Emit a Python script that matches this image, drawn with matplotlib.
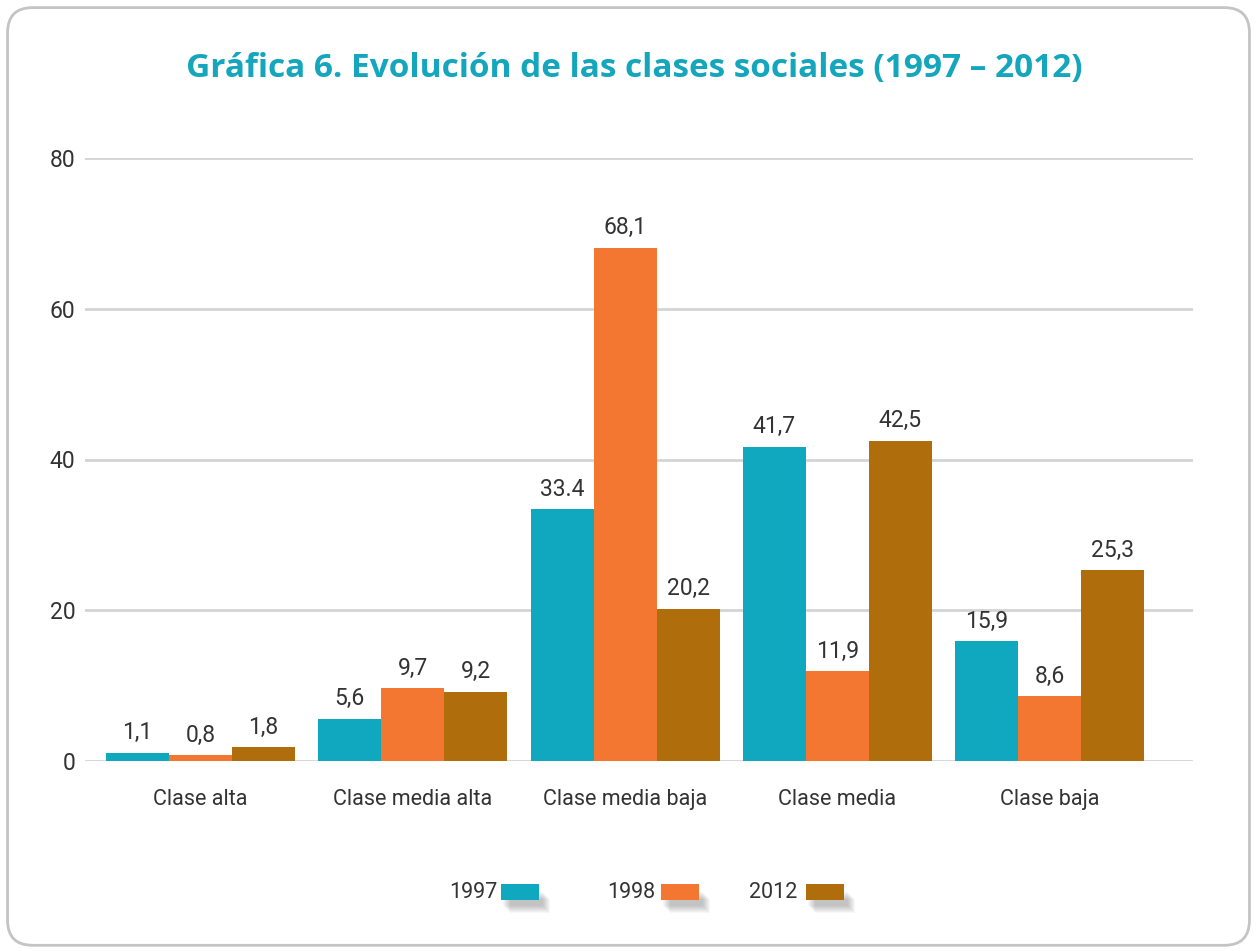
import numpy as np
import matplotlib
matplotlib.use("Agg")
import matplotlib.pyplot as plt
from matplotlib.patches import FancyBboxPatch, Rectangle

plt.rcParams['font.family'] = ['Roboto', 'DejaVu Sans']

categories = ["Clase alta", "Clase media alta", "Clase media baja", "Clase media", "Clase baja"]
years = ["1997", "1998", "2012"]
v1997 = [1.1, 5.6, 33.4, 41.7, 15.9]
v1998 = [0.8, 9.7, 68.1, 11.9, 8.6]
v2012 = [1.8, 9.2, 20.2, 42.5, 25.3]
# value labels as printed on the chart
l1997 = ["1,1", "5,6", "33.4", "41,7", "15,9"]
l1998 = ["0,8", "9,7", "68,1", "11,9", "8,6"]
l2012 = ["1,8", "9,2", "20,2", "42,5", "25,3"]
colors = ["#10a8be", "#f37631", "#b06d0c"]
title_color = "#14a6bd"
text_color = "#333333"

fig = plt.figure(figsize=(12.57, 9.51), dpi=100)

# rounded frame around the whole chart
frame = FancyBboxPatch((0.006, 0.006), 0.988, 0.986, boxstyle="round,pad=0,rounding_size=0.02",
                       transform=fig.transFigure, fill=False, edgecolor="#c4c4c4", linewidth=2,
                       mutation_aspect=1257/951)
fig.patches.append(frame)

ax = fig.add_axes([85/1257, 1-761/951, (1193-85)/1257, (761-158)/951])

x = np.arange(len(categories))
w = 0.297
series = [v1997, v1998, v2012]
labels = [l1997, l1998, l2012]
for i, (vals, labs) in enumerate(zip(series, labels)):
    bars = ax.bar(x + (i - 1) * w, vals, width=w, color=colors[i], zorder=3, label=years[i])
    for b, lab in zip(bars, labs):
        ax.annotate(lab, (b.get_x() + b.get_width() / 2, b.get_height()),
                    xytext=(0, 6), textcoords="offset points", ha="center", va="bottom",
                    fontsize=16.5, color=text_color)

ax.set_ylim(0, 80)
ax.set_xlim(-0.544, 4.675)
ax.set_yticks([0, 20, 40, 60, 80])
ax.yaxis.grid(True, color="#d4d4d4", linewidth=2, zorder=0)
ax.set_axisbelow(True)
for s in ax.spines.values():
    s.set_visible(False)
ax.tick_params(axis="y", length=0, pad=7, labelsize=16.5, labelcolor=text_color)
ax.tick_params(axis="x", length=0, pad=20, labelsize=15.5, labelcolor=text_color)
ax.set_xticks(x)
ax.set_xticklabels(categories)

fig.text(0.505, 1-68/951, "Gráfica 6. Evolución de las clases sociales (1997 – 2012)",
         ha="center", va="center", fontsize=24, fontweight="bold", color=title_color,
         family=["Open Sans", "DejaVu Sans"])

# legend: label then colour swatch with a soft shadow
leg_x = [497, 655, 797]
sw_x = [501, 661, 806]
for i in range(3):
    fig.text(leg_x[i] / 1257, 1 - 892 / 951, years[i], ha="right", va="center",
             fontsize=15.5, color=text_color)
    for k in range(8):
        sh = Rectangle(((sw_x[i] + 2 + k) / 1257, 1 - (906 + k) / 951), 40 / 1257, 14 / 951,
                       transform=fig.transFigure, facecolor="#000000", alpha=0.03,
                       edgecolor="none")
        fig.patches.append(sh)
    sw = Rectangle((sw_x[i] / 1257, 1 - 900 / 951), 38 / 1257, 16 / 951,
                   transform=fig.transFigure, facecolor=colors[i], edgecolor="none")
    fig.patches.append(sw)

fig.savefig("out.png", dpi=100)
